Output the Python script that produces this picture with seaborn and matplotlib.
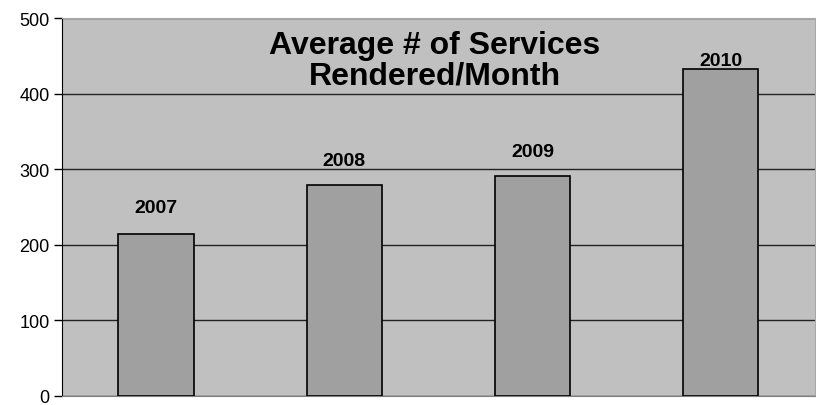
import numpy as np
import pandas as pd
import seaborn as sns
import matplotlib
matplotlib.use('Agg')
import matplotlib.pyplot as plt

# values
years = ['2007', '2008', '2009', '2010']
services = [214, 280, 292, 433]
label_offsets = [27, 24, 24, 9]  # px above bar top, as placed in original

df = pd.DataFrame({'year': years, 'services': services})

sns.set_style('white')
plt.rcParams['font.family'] = ['Liberation Sans', 'DejaVu Sans']
plt.rcParams['text.color'] = 'black'
plt.rcParams['ytick.color'] = 'black'
plt.rcParams['ytick.labelcolor'] = 'black'

fig = plt.figure(figsize=(8.16, 4.06), dpi=100)
ax = fig.add_axes([0.076, 0.0222, 0.9225, 0.9298])
ax.set_facecolor('#C0C0C0')

sns.barplot(data=df, x='year', y='services', color='#A0A0A0', width=0.4,
            edgecolor='black', linewidth=1.2, saturation=1, ax=ax, zorder=3)

ax.set_ylim(0, 500)
ax.set_xlim(-0.5, 3.5)
ax.set_yticks([0, 100, 200, 300, 400, 500])
ax.yaxis.grid(True, color='#222222', linewidth=1)
ax.set_axisbelow(True)
ax.tick_params(axis='y', labelsize=13, length=6, width=1, color='black',
               direction='out', left=True, pad=3, labelcolor='black')
ax.tick_params(axis='x', bottom=False, labelbottom=False)
ax.set_xlabel('')
ax.set_ylabel('')

for s in ['top', 'right']:
    ax.spines[s].set_color('#A8A8A8')
ax.spines['bottom'].set_color('#808080')
ax.spines['left'].set_color('black')

for i, (yr, v) in enumerate(zip(years, services)):
    ax.annotate(yr, (i, v), xytext=(0, label_offsets[i]), textcoords='offset pixels',
                ha='center', va='center', fontsize=14, fontweight='bold', color='black')

ax.text(0.495, 0.89, 'Average # of Services\nRendered/Month', transform=ax.transAxes,
        ha='center', va='center', fontsize=23, fontweight='bold', linespacing=1.02,
        color='black')

fig.savefig('out.png', dpi=100)
